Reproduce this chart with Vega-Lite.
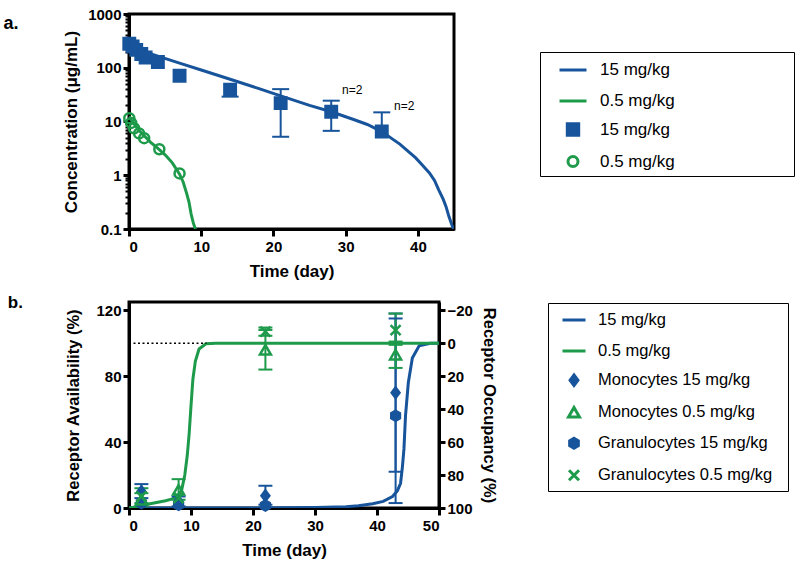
{
  "$schema": "https://vega.github.io/schema/vega-lite/v6.json",
  "background": "white",
  "padding": {"left": 2, "top": 5, "right": 5, "bottom": 5},
  "spacing": 11,
  "config": {
    "font": "Liberation Sans",
    "view": {"stroke": "black", "strokeWidth": 3},
    "axis": {"grid": false, "domainColor": "black", "domainWidth": 3, "tickColor": "black", "tickWidth": 3, "tickSize": 6, "labelFont": "Liberation Sans", "labelFontSize": 15, "labelFontWeight": "bold", "labelColor": "black", "labelPadding": 2, "labelOverlap": false, "titleFont": "Liberation Sans", "titleFontSize": 17, "titleFontWeight": "bold", "titleColor": "black"},
    "legend": {"labelFont": "Liberation Sans", "labelColor": "black", "labelLimit": 400, "symbolOpacity": 1, "symbolStrokeWidth": 3, "strokeColor": "black"}
  },
  "resolve": {
    "scale": {"shape": "independent", "fill": "independent", "stroke": "independent", "size": "independent"},
    "legend": {"shape": "independent", "fill": "independent", "stroke": "independent", "size": "independent"}
  },
  "datasets": {
    "pkfit": [
      {"series": "L15", "t": 0, "c": 245}, {"series": "L15", "t": 1, "c": 222}, {"series": "L15", "t": 2, "c": 201}, {"series": "L15", "t": 4, "c": 165}, {"series": "L15", "t": 7, "c": 122}, {"series": "L15", "t": 10, "c": 91}, {"series": "L15", "t": 14, "c": 61}, {"series": "L15", "t": 18, "c": 41}, {"series": "L15", "t": 21, "c": 30}, {"series": "L15", "t": 25, "c": 20}, {"series": "L15", "t": 28, "c": 15.2}, {"series": "L15", "t": 31, "c": 11}, {"series": "L15", "t": 33, "c": 8.8}, {"series": "L15", "t": 35, "c": 6.5}, {"series": "L15", "t": 36.5, "c": 4.7}, {"series": "L15", "t": 37.5, "c": 3.8}, {"series": "L15", "t": 38.5, "c": 2.9}, {"series": "L15", "t": 39.7, "c": 2.1}, {"series": "L15", "t": 40.7, "c": 1.5}, {"series": "L15", "t": 41.6, "c": 1.1}, {"series": "L15", "t": 42.3, "c": 0.8}, {"series": "L15", "t": 42.9, "c": 0.53}, {"series": "L15", "t": 43.5, "c": 0.36}, {"series": "L15", "t": 43.9, "c": 0.26}, {"series": "L15", "t": 44.3, "c": 0.17}, {"series": "L15", "t": 44.7, "c": 0.12}, {"series": "L15", "t": 44.95, "c": 0.1},
      {"series": "L05", "t": 0, "c": 12.5}, {"series": "L05", "t": 0.25, "c": 11}, {"series": "L05", "t": 0.5, "c": 9.8}, {"series": "L05", "t": 1, "c": 8.0}, {"series": "L05", "t": 1.5, "c": 6.6}, {"series": "L05", "t": 2, "c": 5.6}, {"series": "L05", "t": 3, "c": 4.1}, {"series": "L05", "t": 4, "c": 3.15}, {"series": "L05", "t": 5, "c": 2.4}, {"series": "L05", "t": 6, "c": 1.7}, {"series": "L05", "t": 7, "c": 1.05}, {"series": "L05", "t": 7.5, "c": 0.75}, {"series": "L05", "t": 8, "c": 0.45}, {"series": "L05", "t": 8.3, "c": 0.32}, {"series": "L05", "t": 8.6, "c": 0.19}, {"series": "L05", "t": 8.9, "c": 0.13}, {"series": "L05", "t": 9.2, "c": 0.1}
    ],
    "pkobs": [
      {"series": "P15", "t": 0.04, "c": 280}, {"series": "P15", "t": 0.5, "c": 250}, {"series": "P15", "t": 1, "c": 215}, {"series": "P15", "t": 1.7, "c": 180}, {"series": "P15", "t": 2.3, "c": 155}, {"series": "P15", "t": 4, "c": 128}, {"series": "P15", "t": 7, "c": 71}, {"series": "P15", "t": 14, "c": 39}, {"series": "P15", "t": 21, "c": 22}, {"series": "P15", "t": 28, "c": 15.2}, {"series": "P15", "t": 35, "c": 6.5},
      {"series": "P05", "t": 0.04, "c": 11.5}, {"series": "P05", "t": 0.3, "c": 9.4}, {"series": "P05", "t": 0.7, "c": 7.5}, {"series": "P05", "t": 1.4, "c": 6.0}, {"series": "P05", "t": 2.1, "c": 4.9}, {"series": "P05", "t": 4.2, "c": 3.05}, {"series": "P05", "t": 7, "c": 1.08}
    ],
    "pkerr": [
      {"t": 14, "lo": 29, "hi": 39}, {"t": 21, "lo": 5.2, "hi": 40}, {"t": 28, "lo": 6.7, "hi": 24.4}, {"t": 35, "lo": 6.5, "hi": 14.8}
    ],
    "pkcaps": [
      {"t": 14, "c": 29}, {"t": 21, "c": 40}, {"t": 21, "c": 5.2}, {"t": 28, "c": 24.4}, {"t": 28, "c": 6.7}, {"t": 35, "c": 14.8}
    ],
    "pknote": [
      {"t": 29.5, "c": 38.4, "label": "n=2"}, {"t": 36.7, "c": 19.4, "label": "n=2"}
    ],
    "rofit": [
      {"series": "L15", "t": 0, "a": 0}, {"series": "L15", "t": 20, "a": 0}, {"series": "L15", "t": 30, "a": 0.3}, {"series": "L15", "t": 35, "a": 0.8}, {"series": "L15", "t": 37, "a": 1.4}, {"series": "L15", "t": 39.3, "a": 2.6}, {"series": "L15", "t": 41, "a": 4}, {"series": "L15", "t": 42.5, "a": 7}, {"series": "L15", "t": 43.3, "a": 10.5}, {"series": "L15", "t": 43.8, "a": 15}, {"series": "L15", "t": 44.1, "a": 25}, {"series": "L15", "t": 44.35, "a": 36}, {"series": "L15", "t": 44.6, "a": 56}, {"series": "L15", "t": 45.05, "a": 76}, {"series": "L15", "t": 45.7, "a": 91}, {"series": "L15", "t": 46.8, "a": 98.4}, {"series": "L15", "t": 48.6, "a": 100}, {"series": "L15", "t": 50, "a": 100},
      {"series": "L05", "t": 0, "a": 0}, {"series": "L05", "t": 1, "a": 0.6}, {"series": "L05", "t": 2, "a": 1.4}, {"series": "L05", "t": 3.2, "a": 2.4}, {"series": "L05", "t": 5.9, "a": 4.4}, {"series": "L05", "t": 7, "a": 5.5}, {"series": "L05", "t": 8, "a": 7.5}, {"series": "L05", "t": 8.5, "a": 11}, {"series": "L05", "t": 9, "a": 20}, {"series": "L05", "t": 9.4, "a": 32}, {"series": "L05", "t": 9.7, "a": 45}, {"series": "L05", "t": 10, "a": 62}, {"series": "L05", "t": 10.3, "a": 78}, {"series": "L05", "t": 10.7, "a": 89}, {"series": "L05", "t": 11.3, "a": 96.5}, {"series": "L05", "t": 12.4, "a": 99.7}, {"series": "L05", "t": 14, "a": 100}, {"series": "L05", "t": 50, "a": 100}
    ],
    "roobs": [
      {"series": "M15", "t": 2, "a": 10}, {"series": "M15", "t": 8, "a": 4}, {"series": "M15", "t": 22, "a": 7.5}, {"series": "M15", "t": 43, "a": 70},
      {"series": "G15", "t": 2, "a": 3}, {"series": "G15", "t": 8, "a": 2}, {"series": "G15", "t": 22, "a": 1.5}, {"series": "G15", "t": 43, "a": 56},
      {"series": "M05", "t": 2, "a": 5}, {"series": "M05", "t": 8, "a": 11}, {"series": "M05", "t": 22, "a": 96}, {"series": "M05", "t": 43, "a": 93},
      {"series": "G05", "t": 2, "a": 7}, {"series": "G05", "t": 8, "a": 6}, {"series": "G05", "t": 22, "a": 107}, {"series": "G05", "t": 43, "a": 108}
    ],
    "roerr": [
      {"grp": "M15", "t": 2, "lo": 6, "hi": 14.5}, {"grp": "M15", "t": 8, "lo": 1, "hi": 7}, {"grp": "M15", "t": 22, "lo": 2, "hi": 13.5}, {"grp": "M15", "t": 43, "lo": 22, "hi": 118},
      {"grp": "G15", "t": 43, "lo": 3, "hi": 115},
      {"grp": "M05", "t": 2, "lo": 1, "hi": 9}, {"grp": "M05", "t": 8, "lo": 5, "hi": 17.5}, {"grp": "M05", "t": 22, "lo": 84, "hi": 108}, {"grp": "M05", "t": 43, "lo": 85, "hi": 101},
      {"grp": "G05", "t": 2, "lo": 3, "hi": 12}, {"grp": "G05", "t": 22, "lo": 104.5, "hi": 109.5}, {"grp": "G05", "t": 43, "lo": 99, "hi": 118}
    ],
    "ref": [
      {"t0": 0, "t1": 12.5, "occ": 0}
    ]
  },
  "vconcat": [
    {
      "width": 325,
      "height": 215,
      "title": {"text": "a.", "orient": "left", "anchor": "end", "angle": 0, "align": "right", "baseline": "top", "offset": 29, "dy": 8, "fontSize": 18, "fontWeight": "bold", "font": "Liberation Sans", "color": "black"},
      "layer": [
        {
          "data": {"name": "pkfit"},
          "mark": {"type": "line", "strokeWidth": 3, "clip": true},
          "encoding": {
            "x": {"field": "t", "type": "quantitative", "scale": {"domain": [0, 45], "nice": false}, "axis": {"title": "Time (day)", "values": [0, 10, 20, 30, 40], "tickSize": 7, "labelPadding": 3, "titlePadding": 9}},
            "y": {"field": "c", "type": "quantitative", "scale": {"type": "log", "domain": [0.1, 1000], "nice": false}, "axis": {"title": "Concentration (μg/mL)", "titlePadding": 7, "labelBound": false, "values": [0.1, 0.2, 0.3, 0.4, 0.5, 0.6, 0.7, 0.8, 0.9, 1, 2, 3, 4, 5, 6, 7, 8, 9, 10, 20, 30, 40, 50, 60, 70, 80, 90, 100, 200, 300, 400, 500, 600, 700, 800, 900, 1000], "labelExpr": "indexof([0.1, 1, 10, 100, 1000], datum.value) >= 0 ? '' + datum.value : ''", "tickSize": {"condition": {"test": "indexof([0.1, 1, 10, 100, 1000], datum.value) >= 0", "value": 6}, "value": 4}, "tickWidth": {"condition": {"test": "indexof([0.1, 1, 10, 100, 1000], datum.value) >= 0", "value": 3}, "value": 2}}},
            "detail": {"field": "series", "type": "nominal"},
            "stroke": {"condition": {"test": "datum.series == 'L15'", "value": "#17549b"}, "value": "#1e9a4b"}
          }
        },
        {
          "data": {"name": "pkerr"},
          "mark": {"type": "rule", "strokeWidth": 2, "color": "#17549b"},
          "encoding": {
            "x": {"field": "t", "type": "quantitative"},
            "y": {"field": "lo", "type": "quantitative"},
            "y2": {"field": "hi"}
          }
        },
        {
          "data": {"name": "pkcaps"},
          "mark": {"type": "tick", "orient": "horizontal", "size": 17, "thickness": 2, "color": "#17549b", "opacity": 1},
          "encoding": {
            "x": {"field": "t", "type": "quantitative"},
            "y": {"field": "c", "type": "quantitative"}
          }
        },
        {
          "data": {"name": "pkobs"},
          "mark": {"type": "point", "strokeWidth": 2.5, "opacity": 1},
          "encoding": {
            "x": {"field": "t", "type": "quantitative"},
            "y": {"field": "c", "type": "quantitative"},
            "shape": {"field": "series", "type": "nominal", "scale": {"domain": ["L15", "L05", "P15", "P05"], "range": ["stroke", "stroke", "square", "circle"]},
              "legend": {"orient": "none", "legendX": 411, "legendY": 38, "title": " ", "titleOrient": "right", "titleFontSize": 1, "titlePadding": 116, "padding": 3, "symbolOffset": 15, "labelOffset": 12, "rowPadding": 8, "labelFontSize": 17, "strokeColor": "black", "symbolStrokeWidth": 3, "labelExpr": "datum.value == 'L15' || datum.value == 'P15' ? '15 mg/kg' : '0.5 mg/kg'", "encode": {"legend": {"update": {"strokeWidth": {"value": 3}}}}}},
            "fill": {"field": "series", "type": "nominal", "scale": {"domain": ["L15", "L05", "P15", "P05"], "range": ["#17549b", "#1e9a4b", "#17549b", "transparent"]}},
            "stroke": {"field": "series", "type": "nominal", "scale": {"domain": ["L15", "L05", "P15", "P05"], "range": ["#17549b", "#1e9a4b", "#17549b", "#1e9a4b"]}},
            "size": {"field": "series", "type": "nominal", "scale": {"type": "ordinal", "domain": ["L15", "L05", "P15", "P05"], "range": [729, 729, 130, 100]}}
          }
        },
        {
          "data": {"name": "pknote"},
          "mark": {"type": "text", "align": "left", "baseline": "middle", "fontSize": 12, "color": "black", "font": "Liberation Sans"},
          "encoding": {
            "x": {"field": "t", "type": "quantitative"},
            "y": {"field": "c", "type": "quantitative"},
            "text": {"field": "label"}
          }
        }
      ]
    },
    {
      "width": 310,
      "height": 206,
      "title": {"text": "b.", "orient": "left", "anchor": "end", "angle": 0, "align": "right", "baseline": "top", "offset": 28, "dy": -7, "fontSize": 17, "fontWeight": "bold", "font": "Liberation Sans", "color": "black"},
      "layer": [
        {
          "layer": [
            {
              "data": {"name": "rofit"},
              "mark": {"type": "line", "strokeWidth": 3, "clip": true},
              "encoding": {
                "x": {"field": "t", "type": "quantitative", "scale": {"domain": [0, 50], "nice": false}, "axis": {"title": "Time (day)", "values": [0, 10, 20, 30, 40, 50], "tickSize": 7, "labelPadding": 3, "titlePadding": 9}},
                "y": {"field": "a", "type": "quantitative", "scale": {"domain": [0, 125], "nice": false}, "axis": {"title": "Receptor Availability (%)", "titleFontSize": 16.5, "titlePadding": 14, "values": [0, 20, 40, 60, 80, 100, 120]}},
                "detail": {"field": "series", "type": "nominal"},
                "stroke": {"condition": {"test": "datum.series == 'L15'", "value": "#17549b"}, "value": "#1e9a4b"}
              }
            },
            {
              "data": {"name": "roerr"},
              "mark": {"type": "rule", "strokeWidth": 2},
              "encoding": {
                "x": {"field": "t", "type": "quantitative"},
                "y": {"field": "lo", "type": "quantitative"},
                "y2": {"field": "hi"},
                "stroke": {"condition": {"test": "datum.grp == 'M15' || datum.grp == 'G15'", "value": "#17549b"}, "value": "#1e9a4b"}
              }
            },
            {
              "data": {"name": "roerr"},
              "mark": {"type": "tick", "orient": "horizontal", "size": 14, "thickness": 2, "opacity": 1},
              "encoding": {
                "x": {"field": "t", "type": "quantitative"},
                "y": {"field": "lo", "type": "quantitative"},
                "color": {"condition": {"test": "datum.grp == 'M15' || datum.grp == 'G15'", "value": "#17549b"}, "value": "#1e9a4b"}
              }
            },
            {
              "data": {"name": "roerr"},
              "mark": {"type": "tick", "orient": "horizontal", "size": 14, "thickness": 2, "opacity": 1},
              "encoding": {
                "x": {"field": "t", "type": "quantitative"},
                "y": {"field": "hi", "type": "quantitative"},
                "color": {"condition": {"test": "datum.grp == 'M15' || datum.grp == 'G15'", "value": "#17549b"}, "value": "#1e9a4b"}
              }
            },
            {
              "data": {"name": "roobs"},
              "mark": {"type": "point", "strokeWidth": 2.5, "opacity": 1},
              "encoding": {
                "x": {"field": "t", "type": "quantitative"},
                "y": {"field": "a", "type": "quantitative"},
                "shape": {"field": "series", "type": "nominal", "scale": {"domain": ["L15", "L05", "M15", "M05", "G15", "G05"], "range": ["stroke", "stroke", "M0,-1L0.75,0L0,1L-0.75,0Z", "triangle-up", "M0,-1L0.87,-0.5L0.87,0.5L0,1L-0.87,0.5L-0.87,-0.5Z", "M-1,-1L1,1M-1,1L1,-1"]},
                  "legend": {"orient": "none", "legendX": 419, "legendY": 1, "title": " ", "titleOrient": "right", "titleFontSize": 1, "titlePadding": 12, "padding": 4, "symbolOffset": 9, "labelOffset": 11, "rowPadding": 9, "labelFontSize": 16.5, "strokeColor": "black", "symbolStrokeWidth": 3, "labelExpr": "datum.value == 'L15' ? '15 mg/kg' : datum.value == 'L05' ? '0.5 mg/kg' : datum.value == 'M15' ? 'Monocytes 15 mg/kg' : datum.value == 'M05' ? 'Monocytes 0.5 mg/kg' : datum.value == 'G15' ? 'Granulocytes 15 mg/kg' : 'Granulocytes 0.5 mg/kg'", "encode": {"legend": {"update": {"strokeWidth": {"value": 3}}}}}},
                "fill": {"field": "series", "type": "nominal", "scale": {"domain": ["L15", "L05", "M15", "M05", "G15", "G05"], "range": ["#17549b", "#1e9a4b", "#17549b", "transparent", "#17549b", "transparent"]}},
                "stroke": {"field": "series", "type": "nominal", "scale": {"domain": ["L15", "L05", "M15", "M05", "G15", "G05"], "range": ["#17549b", "#1e9a4b", "#17549b", "#1e9a4b", "#17549b", "#1e9a4b"]}},
                "size": {"field": "series", "type": "nominal", "scale": {"type": "ordinal", "domain": ["L15", "L05", "M15", "M05", "G15", "G05"], "range": [529, 529, 110, 120, 100, 100]}}
              }
            }
          ]
        },
        {
          "data": {"name": "ref"},
          "mark": {"type": "rule", "strokeWidth": 1.5, "strokeDash": [2, 2.5], "color": "black"},
          "encoding": {
            "x": {"field": "t0", "type": "quantitative"},
            "x2": {"field": "t1"},
            "y": {"field": "occ", "type": "quantitative", "scale": {"domain": [-25, 100], "reverse": true, "nice": false}, "axis": {"orient": "right", "title": "Receptor Occupancy (%)", "titleFontSize": 16.5, "titlePadding": 8, "values": [-20, 0, 20, 40, 60, 80, 100]}}
          }
        }
      ],
      "resolve": {"scale": {"y": "independent"}, "axis": {"y": "independent"}}
    }
  ]
}
